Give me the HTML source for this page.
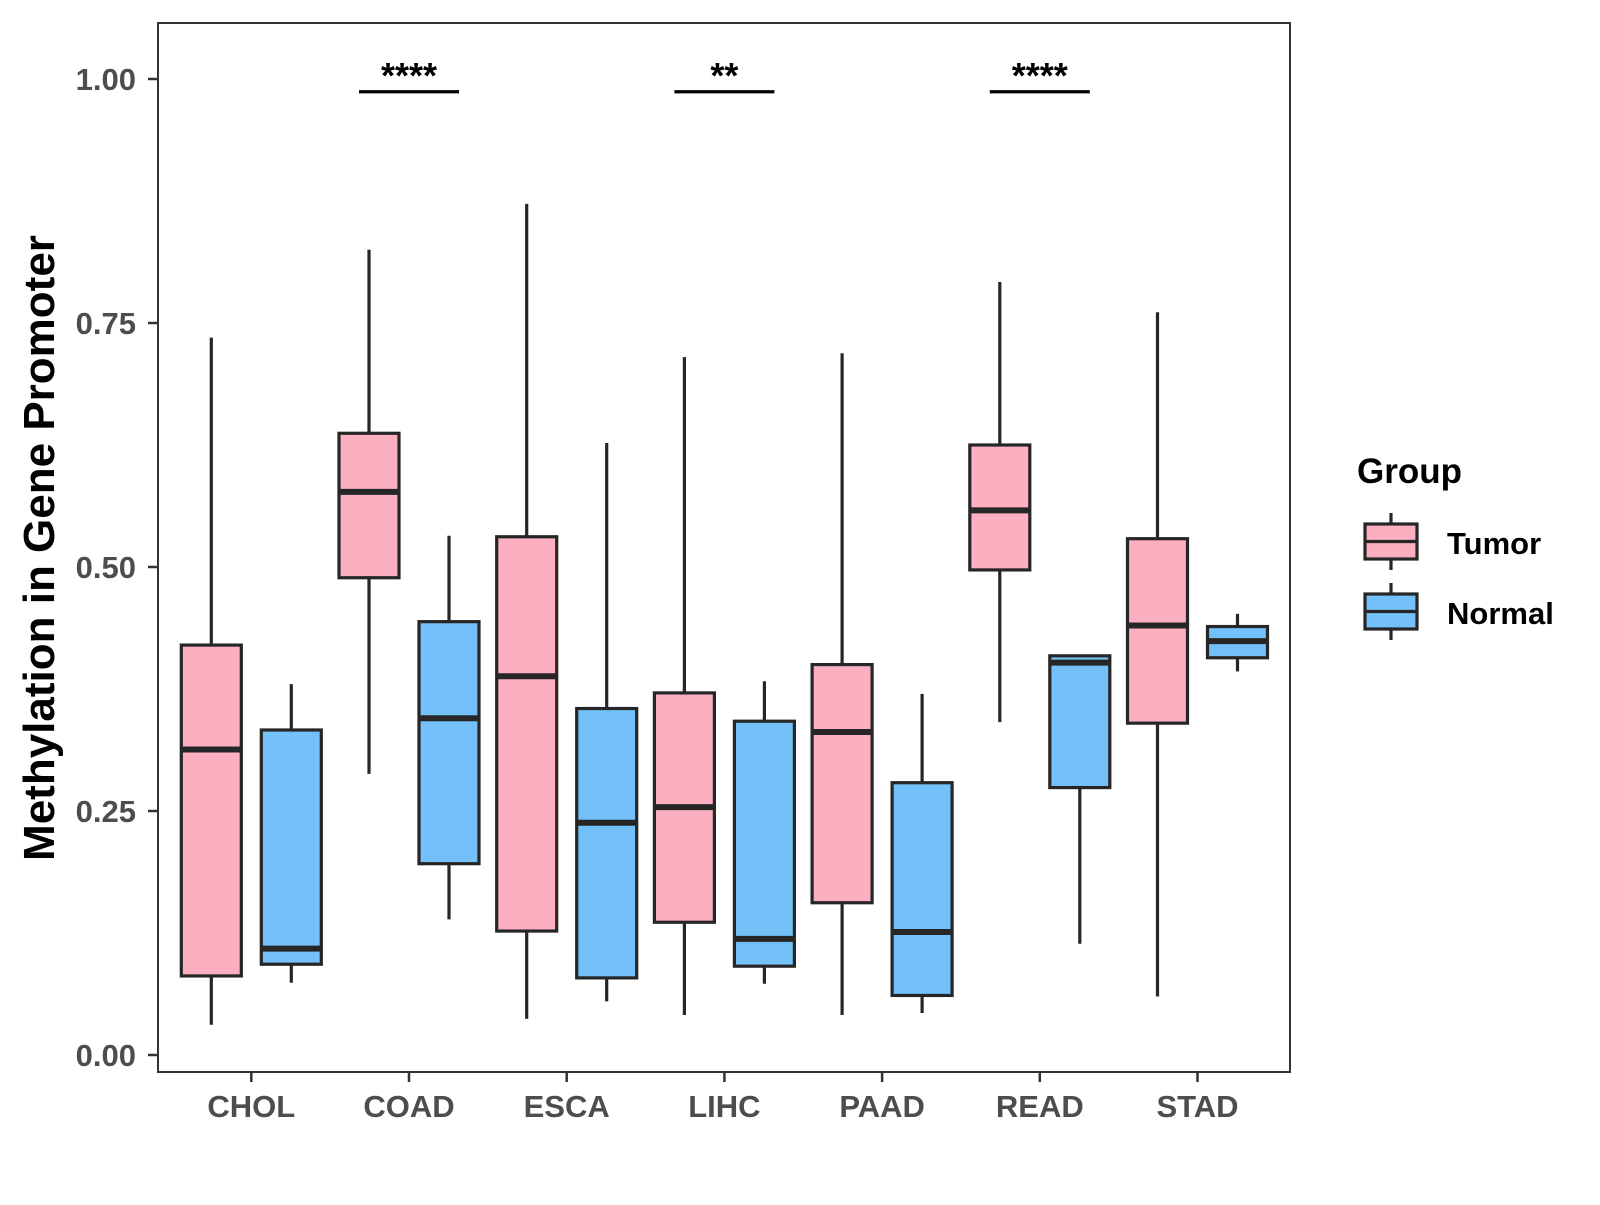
<!DOCTYPE html>
<html><head><meta charset="utf-8"><style>
body{margin:0;background:#fff;}
svg text{font-family:"Liberation Sans",Arial,sans-serif;font-weight:bold;}
</style></head><body>
<svg id="chart" width="1600" height="1200" viewBox="0 0 1600 1200">
<rect x="158" y="23" width="1132" height="1049" fill="#fff" stroke="#333" stroke-width="2"/>
<g id="yaxis"></g>
<g id="xaxis"></g>
<g id="boxes"></g>
<g id="sig"></g>
<text x="54" y="548" transform="rotate(-90 54 548)" text-anchor="middle" font-size="44" fill="#000">Methylation in Gene Promoter</text>
<g>
<text x="1357" y="483" font-size="35" fill="#000">Group</text>
<g>
<line x1="1391" y1="513" x2="1391" y2="570" stroke="#262626" stroke-width="3.2"/>
<rect x="1365" y="524" width="52" height="35" fill="#FBAFC1" stroke="#262626" stroke-width="3.2"/>
<line x1="1365" y1="541.5" x2="1417" y2="541.5" stroke="#262626" stroke-width="3.2"/>
<text x="1447" y="554" font-size="31" fill="#000">Tumor</text></g>
<g>
<line x1="1391" y1="583" x2="1391" y2="640" stroke="#262626" stroke-width="3.2"/>
<rect x="1365" y="594" width="52" height="35" fill="#74C0F8" stroke="#262626" stroke-width="3.2"/>
<line x1="1365" y1="611.5" x2="1417" y2="611.5" stroke="#262626" stroke-width="3.2"/>
<text x="1447" y="624" font-size="31" fill="#000">Normal</text></g>
</g>
</svg>
<script>
const categories=["CHOL","COAD","ESCA","LIHC","PAAD","READ","STAD"];
const tumorLow=[0.031,0.288,0.037,0.041,0.041,0.341,0.06];
const tumorQ1=[0.081,0.489,0.127,0.136,0.156,0.497,0.34];
const tumorMed=[0.313,0.577,0.388,0.254,0.331,0.558,0.44];
const tumorQ3=[0.42,0.637,0.531,0.371,0.4,0.625,0.529];
const tumorHigh=[0.735,0.825,0.872,0.715,0.719,0.792,0.761];
const normalLow=[0.074,0.139,0.055,0.073,0.043,0.114,0.393];
const normalQ1=[0.093,0.196,0.079,0.091,0.061,0.274,0.407];
const normalMed=[0.109,0.345,0.238,0.119,0.126,0.402,0.424];
const normalQ3=[0.333,0.444,0.355,0.342,0.279,0.409,0.439];
const normalHigh=[0.38,0.532,0.627,0.383,0.37,0.409,0.452];
const yTicks=[0,0.25,0.5,0.75,1.0];
const yTickLabels=["0.00","0.25","0.50","0.75","1.00"];
const sigCats=["COAD","LIHC","READ"];
const sigLabels=["****","**","****"];
const sigValue=0.99;

const NS="http://www.w3.org/2000/svg";
const yS=v=>1055-v*976;
const xS=c=>251.3+categories.indexOf(c)*157.7;
function mk(tag,attrs,parent,text){const e=document.createElementNS(NS,tag);for(const k in attrs)e.setAttribute(k,attrs[k]);if(text!==undefined)e.textContent=text;parent.appendChild(e);return e;}
const ya=document.getElementById('yaxis'),xa=document.getElementById('xaxis'),bx=document.getElementById('boxes'),sg=document.getElementById('sig');
yTicks.forEach((t,i)=>{
  const l=mk('line',{x1:148,x2:158,y1:yS(t),y2:yS(t),stroke:'#333','stroke-width':2.5},ya);
  
  
  const tx=mk('text',{x:136,y:yS(t)+11,'text-anchor':'end','font-size':31,fill:'#4d4d4d'},ya,yTickLabels[i]);
  
  
});
categories.forEach(c=>{
  const l=mk('line',{x1:xS(c),x2:xS(c),y1:1072,y2:1082,stroke:'#333','stroke-width':2.5},xa);
  
  
  const tx=mk('text',{x:xS(c),y:1117,'text-anchor':'middle','font-size':31,fill:'#4d4d4d'},xa,c);
  
  
});
function box(cx,lo,q1,md,q3,hi,fill,name){
  const g=mk('g',{},bx);
  
  
  mk('line',{x1:cx,x2:cx,y1:yS(hi),y2:yS(lo),stroke:'#262626','stroke-width':3.2},g);
  mk('rect',{x:cx-30,y:yS(q3),width:60,height:yS(q1)-yS(q3),fill:fill,stroke:'#262626','stroke-width':3.2},g);
  mk('line',{x1:cx-30,x2:cx+30,y1:yS(md),y2:yS(md),stroke:'#262626','stroke-width':6},g);
}
categories.forEach((c,i)=>{
  box(xS(c)-40,tumorLow[i],tumorQ1[i],tumorMed[i],tumorQ3[i],tumorHigh[i],'#FBAFC1','box-tumor-'+c.toLowerCase());
  box(xS(c)+40,normalLow[i],normalQ1[i],normalMed[i],normalQ3[i],normalHigh[i],'#74C0F8','box-normal-'+c.toLowerCase());
});
sigCats.forEach((c,i)=>{
  const l=mk('line',{x1:xS(c)-50,x2:xS(c)+50,y1:yS(sigValue)+3,y2:yS(sigValue)+3,stroke:'#000','stroke-width':3.2},sg);
  
  
  const t=mk('text',{x:xS(c),y:yS(sigValue)-1,'text-anchor':'middle','font-size':36,fill:'#000'},sg,sigLabels[i]);
  
  
});
</script>
</body></html>
